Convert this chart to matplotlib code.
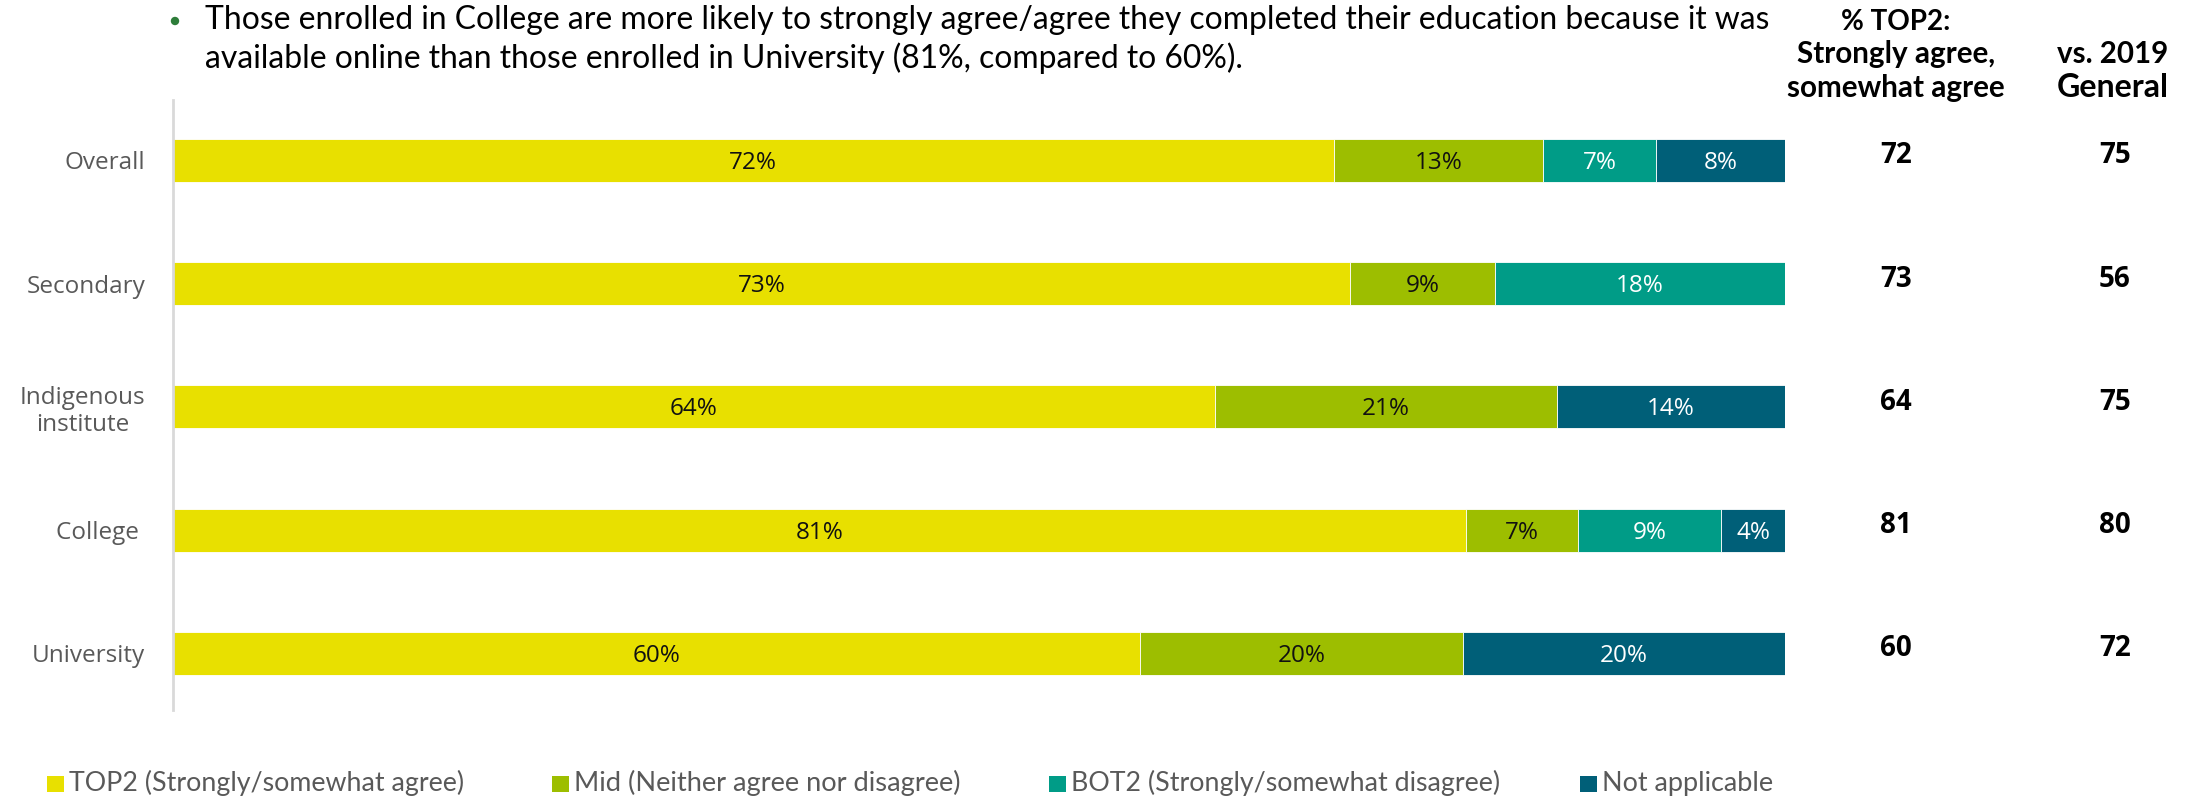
import matplotlib
matplotlib.use("Agg")
import matplotlib.pyplot as plt
from matplotlib.patches import Rectangle, Ellipse
from matplotlib.transforms import blended_transform_factory
import numpy as np

# ---- data ----
categories = ["Overall", "Secondary", "Indigenous\ninstitute", "College ", "University"]
series_names = ["TOP2 (Strongly/somewhat agree)", "Mid (Neither agree nor disagree)",
                "BOT2 (Strongly/somewhat disagree)", "Not applicable"]
top2 = [72, 73, 64, 81, 60]
mid = [13, 9, 21, 7, 20]
bot2 = [7, 18, 0, 9, 0]
not_applicable = [8, 0, 14, 4, 20]
top2_col = ["72", "73", "64", "81", "60"]
vs_2019 = ["75", "56", "75", "80", "72"]
bullet_lines = [
    "Those enrolled in College are more likely to strongly agree/agree they completed their education because it was",
    "available online than those enrolled in University (81%, compared to 60%).",
]
header_top2 = ["% TOP2:", "Strongly agree,", "somewhat agree"]
header_vs = ["vs. 2019", "General"]

colors = ["#E8E000", "#9DBE00", "#009C87", "#005F78"]
label_colors = ["#111111", "#111111", "white", "white"]

W, H = 2203, 801
fig = plt.figure(figsize=(W / 100, H / 100), dpi=100)
fig.patch.set_facecolor("white")

HUMANIST = ["Lato", "DejaVu Sans"]
SANS = ["Open Sans", "DejaVu Sans"]

def fx(px):
    return px / W

def fy(py):
    return 1 - py / H

renderer = fig.canvas.get_renderer()

def fit_text(x, y, s, width_px, size0, **kw):
    """Place text and scale its font so the rendered width equals width_px."""
    t = fig.text(x, y, s, fontsize=size0, **kw)
    w = t.get_window_extent(renderer=renderer).width
    if w > 0:
        t.set_fontsize(size0 * width_px / w)
    return t

# ---- axes ----
ax_left, ax_right = 173, 1785
ax_top, ax_bot = 100, 710
ax = fig.add_axes([fx(ax_left), fy(ax_bot), fx(ax_right - ax_left), (ax_bot - ax_top) / H])

data = np.array([top2, mid, bot2, not_applicable], dtype=float)
totals = data.sum(axis=0)
shares = data / totals * 100  # 100% stacked
y = np.arange(len(categories))
bar_h = 0.35
left = np.zeros(len(categories))
for i in range(4):
    ax.barh(y, shares[i], left=left, height=bar_h, color=colors[i], edgecolor="white",
            linewidth=0.6, label=series_names[i])
    for j in range(len(categories)):
        if data[i, j] > 0:
            ax.text(left[j] + shares[i][j] / 2, y[j] + 0.02, f"{int(data[i, j])}%",
                    ha="center", va="center", fontsize=17.5, color=label_colors[i],
                    family=SANS)
    left += shares[i]

ax.set_xlim(0, 100)
ax.set_ylim(len(categories) - 1 + 0.46, -0.49)
for side in ["top", "right", "bottom"]:
    ax.spines[side].set_visible(False)
ax.spines["left"].set_color("#D9D9D9")
ax.spines["left"].set_linewidth(2)
ax.set_xticks([])
ax.set_yticks(y)
ax.set_yticklabels(categories, fontsize=17.5, color="#595959", family=SANS,
                   multialignment="center")
ax.tick_params(axis="y", length=0, pad=20)

# ---- right-hand value columns ----
tr = blended_transform_factory(fig.transFigure, ax.transData)
px_per_unit = (ax_bot - ax_top) / (len(categories) - 1 + 0.46 + 0.49)
for j in range(len(categories)):
    ax.text(fx(1896), y[j] + 3 / px_per_unit, top2_col[j], transform=tr, ha="center",
            va="baseline", fontsize=20, fontweight="bold", color="black", family=SANS)
    ax.text(fx(2115), y[j] + 3 / px_per_unit, vs_2019[j], transform=tr, ha="center",
            va="baseline", fontsize=20, fontweight="bold", color="black", family=SANS)

# column headers
for s, base, ww in zip(header_top2, [30, 63, 97], [109, 198, 218]):
    fit_text(fx(1896), fy(base), s, ww, 22, ha="center", va="baseline",
             fontweight="bold", color="black", family=HUMANIST)
for s, base, ww in zip(header_vs, [63, 97], [111, 112]):
    fit_text(fx(2113), fy(base), s, ww, 22, ha="center", va="baseline",
             fontweight="bold", color="black", family=HUMANIST)

# ---- bullet text ----
fig.patches.append(Ellipse((fx(175), fy(21)), fx(7), 7 / H,
                           transform=fig.transFigure, color="#2E7D3A"))
t1 = fit_text(fx(205), fy(29), bullet_lines[0], 1568, 20, ha="left", va="baseline",
              color="black", family=HUMANIST)
fig.text(fx(205), fy(68), bullet_lines[1], fontsize=t1.get_fontsize(), ha="left",
         va="baseline", color="black", family=HUMANIST)

# ---- legend ----
leg_sq_x = [47, 552, 1049, 1580]
leg_txt_w = [393, 387, 427, 171]
for i in range(4):
    fig.patches.append(Rectangle((fx(leg_sq_x[i]), fy(792)), fx(17), 16 / H,
                                 transform=fig.transFigure, facecolor=colors[i],
                                 edgecolor="none"))
    fit_text(fx(leg_sq_x[i] + 22), fy(791), series_names[i], leg_txt_w[i], 17,
             ha="left", va="baseline", color="#595959", family=HUMANIST)

fig.savefig("out.png", dpi=100, facecolor="white")
